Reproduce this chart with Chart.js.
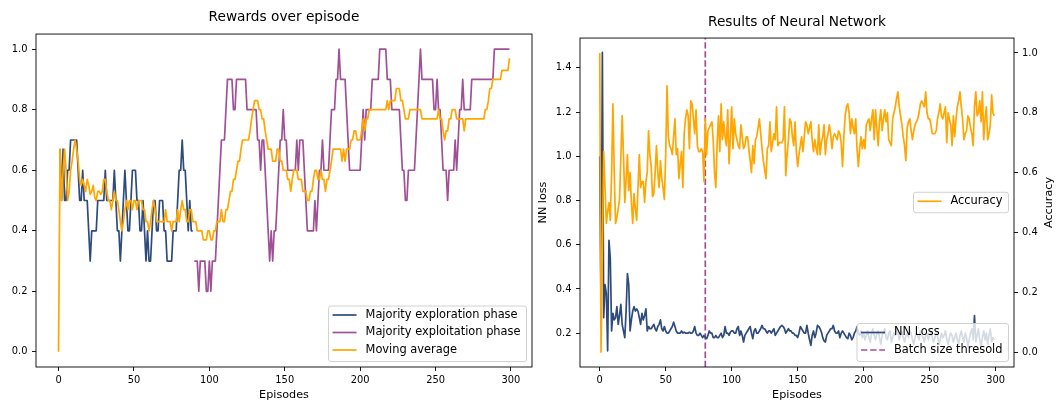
<!DOCTYPE html>
<html><head><meta charset="utf-8">
<script src="https://cdn.jsdelivr.net/npm/chart.js@4.4.1/dist/chart.umd.min.js"></script>
<style>
html,body{margin:0;padding:0;background:#fff;}
#wrap{position:relative;width:1057px;height:403px;overflow:hidden;background:#fff;}
#c1{position:absolute;left:0;top:0;}
#c2{position:absolute;left:536px;top:0;}
</style></head><body>
<div id="wrap"><canvas id="c1" width="536" height="403"></canvas><canvas id="c2" width="521" height="403"></canvas></div>
<script>
// ---------------- data ----------------
const episodes = Array.from({length: 300}, (_, i) => i);

const explorationReward = [
 null,0.67,0.5,0.67,0.5,0.5,0.6,0.6,0.7,0.7,
 0.7,0.7,0.7,0.6,0.5,0.5,0.6,0.5,0.5,0.5,
 0.4,0.3,0.4,0.4,0.4,0.4,0.5,0.5,0.5,0.5,
 0.5,0.6,0.5,0.5,0.5,0.5,0.5,0.6,0.5,0.4,
 0.4,0.3,0.4,0.5,0.6,0.5,0.4,0.4,0.5,0.6,
 0.6,0.6,0.5,0.5,0.4,0.4,0.5,0.4,0.3,0.4,
 0.3,0.3,0.4,0.5,0.5,0.4,0.4,0.5,0.5,0.5,
 0.4,0.4,0.3,0.3,0.3,0.3,0.4,0.4,0.4,0.5,
 0.6,0.6,0.7,0.6,0.6,0.5,0.4,0.5,0.4,0.4
].concat(Array(210).fill(null));

const exploitationReward = Array(90).fill(null).concat([
 0.3,0.3,0.3,0.2,0.3,0.3,0.3,0.3,0.2,0.2,
 0.3,0.2,0.3,0.3,0.3,0.4,0.5,0.6,0.7,0.7,
 0.7,0.8,0.9,0.9,0.9,0.9,0.8,0.8,0.9,0.9,
 0.9,0.9,0.9,0.9,0.9,0.8,0.8,0.8,0.8,0.8,
 0.8,0.8,0.7,0.7,0.6,0.7,0.7,0.6,0.5,0.4,
 0.3,0.4,0.3,0.4,0.4,0.5,0.6,0.7,0.7,0.8,
 0.7,0.7,0.6,0.6,0.6,0.6,0.6,0.6,0.7,0.6,
 0.7,0.7,0.7,0.6,0.5,0.4,0.4,0.4,0.4,0.4,
 0.5,0.4,0.5,0.6,0.6,0.7,0.6,0.6,0.6,0.6,
 0.7,0.8,0.8,0.8,0.9,0.9,1.0,0.9,0.9,0.9,
 0.9,0.8,0.7,0.6,0.6,0.6,0.6,0.6,0.6,0.6,
 0.6,0.7,0.8,0.7,0.8,0.8,0.8,0.8,0.9,0.9,
 0.9,0.9,0.9,1.0,1.0,1.0,1.0,1.0,0.9,0.9,
 0.9,0.8,0.8,0.8,0.8,0.8,0.8,0.7,0.6,0.6,
 0.5,0.5,0.6,0.6,0.6,0.6,0.6,0.7,0.8,0.9,
 1.0,0.9,0.9,0.9,0.9,0.9,0.9,0.9,0.9,0.8,
 0.8,0.9,0.8,0.8,0.7,0.6,0.6,0.6,0.5,0.6,
 0.6,0.6,0.6,0.7,0.6,0.7,0.8,0.8,0.9,0.8,
 0.8,0.8,0.8,0.8,0.9,0.9,0.9,0.9,0.9,0.9,
 0.9,0.9,0.9,0.9,0.9,0.9,0.9,0.9,0.9,1.0,
 1.0,1.0,1.0,1.0,1.0,1.0,1.0,1.0,1.0,1.0
]);

const movingAverage = [
 0,0.67,0.5,0.6,0.67,0.6,0.5,0.53,0.6,0.63,
 0.67,0.7,0.67,0.63,0.57,0.55,0.57,0.55,0.53,0.57,
 0.55,0.52,0.53,0.55,0.51,0.5,0.53,0.53,0.52,0.53,
 0.57,0.57,0.53,0.5,0.5,0.47,0.5,0.53,0.5,0.5,
 0.47,0.43,0.4,0.43,0.47,0.5,0.47,0.5,0.5,0.47,
 0.5,0.5,0.47,0.5,0.5,0.5,0.47,0.47,0.43,0.43,
 0.4,0.43,0.47,0.5,0.47,0.43,0.43,0.43,0.43,0.43,
 0.43,0.47,0.43,0.43,0.43,0.4,0.43,0.43,0.43,0.47,
 0.43,0.47,0.5,0.47,0.47,0.43,0.43,0.47,0.47,0.43,
 0.43,0.43,0.4,0.4,0.4,0.4,0.37,0.37,0.37,0.4,
 0.4,0.37,0.37,0.4,0.4,0.43,0.43,0.43,0.47,0.43,
 0.43,0.47,0.47,0.5,0.53,0.53,0.57,0.57,0.6,0.63,
 0.63,0.67,0.7,0.7,0.7,0.7,0.7,0.73,0.77,0.8,
 0.83,0.83,0.83,0.8,0.8,0.77,0.77,0.73,0.7,0.67,
 0.67,0.67,0.63,0.63,0.63,0.67,0.67,0.63,0.63,0.6,
 0.6,0.6,0.57,0.57,0.53,0.57,0.6,0.6,0.6,0.57,
 0.57,0.57,0.53,0.53,0.53,0.5,0.5,0.53,0.53,0.57,
 0.6,0.6,0.57,0.57,0.6,0.57,0.57,0.53,0.57,0.57,
 0.6,0.63,0.67,0.67,0.67,0.67,0.67,0.67,0.63,0.67,
 0.63,0.67,0.67,0.67,0.7,0.7,0.73,0.73,0.7,0.7,
 0.7,0.73,0.77,0.73,0.77,0.77,0.8,0.8,0.8,0.8,
 0.8,0.8,0.8,0.8,0.8,0.8,0.8,0.8,0.83,0.8,
 0.83,0.83,0.83,0.83,0.87,0.87,0.87,0.83,0.83,0.8,
 0.77,0.77,0.77,0.8,0.8,0.8,0.8,0.8,0.8,0.8,
 0.8,0.77,0.77,0.77,0.77,0.77,0.77,0.77,0.77,0.77,
 0.77,0.77,0.8,0.77,0.77,0.73,0.7,0.73,0.73,0.77,
 0.77,0.8,0.8,0.8,0.77,0.77,0.77,0.77,0.77,0.73,
 0.77,0.77,0.77,0.77,0.77,0.77,0.77,0.77,0.77,0.77,
 0.77,0.77,0.77,0.8,0.8,0.83,0.87,0.87,0.9,0.9,
 0.9,0.9,0.9,0.9,0.93,0.93,0.93,0.93,0.93,0.97
];

const nnLoss = [
 1.0,0.29,1.47,0.27,0.42,0.38,0.12,0.62,0.54,0.21,
 0.29,0.26,0.27,0.32,0.24,0.28,0.33,0.24,0.21,0.18,
 0.3,0.47,0.42,0.21,0.26,0.3,0.32,0.3,0.31,0.3,
 0.27,0.24,0.29,0.26,0.28,0.31,0.21,0.23,0.22,0.22,
 0.23,0.24,0.22,0.21,0.23,0.24,0.26,0.22,0.21,0.23,
 0.21,0.2,0.2,0.21,0.22,0.23,0.25,0.23,0.21,0.2,
 0.2,0.2,0.21,0.2,0.205,0.2,0.2,0.2,0.205,0.2,
 0.2,0.21,0.23,0.2,0.19,0.19,0.2,0.19,0.18,0.19,
 0.18,0.175,0.19,0.21,0.2,0.2,0.18,0.18,0.19,0.18,
 0.18,0.19,0.2,0.18,0.19,0.23,0.2,0.2,0.19,0.205,
 0.21,0.21,0.2,0.2,0.22,0.23,0.19,0.21,0.19,0.16,
 0.19,0.2,0.21,0.22,0.23,0.2,0.175,0.21,0.22,0.2,
 0.2,0.21,0.22,0.235,0.22,0.22,0.21,0.2,0.21,0.21,
 0.2,0.21,0.22,0.19,0.2,0.21,0.22,0.23,0.235,0.23,
 0.22,0.2,0.21,0.22,0.21,0.21,0.2,0.2,0.19,0.19,
 0.18,0.2,0.23,0.22,0.21,0.2,0.2,0.235,0.2,0.17,
 0.145,0.19,0.21,0.18,0.2,0.235,0.23,0.22,0.205,0.18,
 0.165,0.16,0.19,0.2,0.21,0.22,0.22,0.235,0.21,0.2,
 0.2,0.21,0.18,0.2,0.21,0.2,0.19,0.18,0.175,0.2,
 0.19,0.17,0.18,0.2,0.21,0.23,0.2,0.19,0.21,0.18,
 0.2,0.17,0.19,0.21,0.18,0.16,0.2,0.22,0.19,0.17,
 0.2,0.21,0.18,0.15,0.19,0.2,0.22,0.18,0.17,0.2,
 0.21,0.16,0.18,0.2,0.19,0.22,0.2,0.17,0.19,0.21,
 0.18,0.16,0.19,0.2,0.18,0.21,0.2,0.17,0.15,0.18,
 0.2,0.19,0.17,0.21,0.2,0.18,0.16,0.19,0.2,0.17,
 0.19,0.21,0.18,0.16,0.18,0.2,0.19,0.15,0.17,0.2,
 0.18,0.19,0.21,0.17,0.15,0.18,0.2,0.19,0.16,0.18,
 0.2,0.17,0.15,0.19,0.21,0.18,0.16,0.2,0.18,0.14,
 0.17,0.2,0.22,0.17,0.28,0.16,0.19,0.22,0.17,0.14,
 0.18,0.21,0.17,0.2,0.15,0.19,0.22,0.16,0.18,0.17
];

const accuracy = [
 1.0,0.0,0.35,0.67,0.55,0.43,0.47,0.5,0.44,0.6,
 0.83,0.6,0.43,0.45,0.48,0.51,0.65,0.79,0.66,0.5,
 0.58,0.66,0.54,0.6,0.5,0.43,0.53,0.48,0.44,0.55,
 0.66,0.55,0.57,0.57,0.5,0.57,0.6,0.74,0.66,0.62,
 0.52,0.53,0.6,0.69,0.6,0.55,0.64,0.58,0.55,0.51,
 0.66,0.89,0.72,0.69,0.68,0.66,0.72,0.78,0.66,0.68,
 0.58,0.63,0.67,0.55,0.73,0.78,0.81,0.79,0.68,0.84,
 0.83,0.78,0.73,0.81,0.69,0.67,0.67,0.68,0.67,0.57,
 0.78,0.66,0.74,0.75,0.76,0.77,0.71,0.6,0.55,0.7,
 0.79,0.67,0.83,0.71,0.77,0.72,0.69,0.81,0.63,0.72,
 0.82,0.68,0.78,0.73,0.71,0.69,0.68,0.76,0.72,0.68,
 0.69,0.72,0.72,0.68,0.64,0.6,0.69,0.63,0.71,0.72,
 0.75,0.78,0.73,0.68,0.64,0.61,0.58,0.68,0.69,0.77,
 0.67,0.7,0.73,0.71,0.82,0.69,0.7,0.7,0.7,0.71,
 0.82,0.59,0.66,0.71,0.78,0.77,0.72,0.69,0.77,0.67,
 0.62,0.66,0.69,0.72,0.67,0.72,0.77,0.76,0.73,0.75,
 0.77,0.71,0.67,0.71,0.68,0.66,0.76,0.66,0.7,0.72,
 0.76,0.66,0.71,0.73,0.76,0.73,0.68,0.72,0.73,0.72,
 0.71,0.74,0.73,0.7,0.62,0.72,0.79,0.82,0.83,0.8,
 0.73,0.78,0.75,0.73,0.78,0.68,0.62,0.68,0.72,0.68,
 0.71,0.68,0.76,0.77,0.78,0.74,0.78,0.81,0.71,0.81,
 0.75,0.69,0.77,0.81,0.74,0.78,0.81,0.77,0.8,0.71,
 0.7,0.69,0.78,0.8,0.82,0.85,0.87,0.82,0.79,0.76,
 0.72,0.69,0.64,0.75,0.77,0.78,0.74,0.71,0.74,0.76,
 0.77,0.78,0.8,0.83,0.84,0.83,0.82,0.87,0.8,0.78,
 0.78,0.76,0.73,0.73,0.73,0.74,0.78,0.8,0.83,0.79,
 0.78,0.8,0.82,0.7,0.8,0.78,0.76,0.69,0.79,0.72,
 0.78,0.82,0.84,0.87,0.82,0.78,0.71,0.73,0.74,0.79,
 0.78,0.75,0.73,0.69,0.82,0.87,0.79,0.8,0.84,0.77,
 0.87,0.71,0.78,0.82,0.71,0.73,0.76,0.86,0.8,0.79
];

const batchSizeThreshold = 80;

const xTicks = [0, 50, 100, 150, 200, 250, 300];
const rewardTicks = [0.0, 0.2, 0.4, 0.6, 0.8, 1.0];
const lossTicks = [0.2, 0.4, 0.6, 0.8, 1.0, 1.2, 1.4];
const accuracyTicks = [0.0, 0.2, 0.4, 0.6, 0.8, 1.0];

const TITLE_LEFT = 'Rewards over episode';
const TITLE_RIGHT = 'Results of Neural Network';
const X_LABEL = 'Episodes';
const Y_LABEL_LOSS = 'NN loss';
const Y_LABEL_ACC = 'Accuracy';
const LBL_EXPLORE = 'Majority exploration phase';
const LBL_EXPLOIT = 'Majority exploitation phase';
const LBL_MAVG = 'Moving average';
const LBL_LOSS = 'NN Loss';
const LBL_BATCH = 'Batch size thresold';
const LBL_ACC = 'Accuracy';

// ---------------- style ----------------
const FONT = 'DejaVu Sans';
const C_BLUE = '#2f4b7c', C_PURPLE = '#a05195', C_ORANGE = '#ffa600';
const LW = 1.7;
const TICK_FS = 9.9, LABEL_FS = 11.2, LEGEND_FS = 11.4, TITLE_FS = 13.7;
Chart.defaults.font.family = FONT;
Chart.defaults.color = '#000';

function fixedTicks(list) { return s => { s.ticks = list.map(v => ({value: v})); }; }
const tickGrid = {display: true, drawOnChartArea: false, drawTicks: true, tickLength: 4, tickWidth: 0.9, tickColor: '#000'};

function drawLegend(chart, L) {
  const {ctx, chartArea: a} = chart;
  ctx.save();
  ctx.font = LEGEND_FS + 'px "' + FONT + '"';
  const tw = Math.max(...L.items.map(it => ctx.measureText(it.label).width));
  const n = L.items.length;
  const w = 37 + tw + 6;
  const h = 9 + (n - 1) * 17.5 + 11.5;
  const x = a.right - 5.5 - w;
  const y = L.loc === 'center right' ? (a.top + a.bottom) / 2 - h / 2 : a.bottom - 5.5 - h;
  ctx.beginPath();
  if (ctx.roundRect) ctx.roundRect(x, y, w, h, 2.5); else ctx.rect(x, y, w, h);
  ctx.fillStyle = 'rgba(255,255,255,0.8)';
  ctx.fill();
  ctx.lineWidth = 0.9;
  ctx.strokeStyle = '#cccccc';
  ctx.stroke();
  L.items.forEach((it, i) => {
    const cy = y + 9 + i * 17.5;
    ctx.beginPath();
    ctx.setLineDash(it.dash || []);
    ctx.strokeStyle = it.color;
    ctx.lineWidth = LW;
    ctx.moveTo(x + 4, cy);
    ctx.lineTo(x + 28, cy);
    ctx.stroke();
    ctx.setLineDash([]);
    ctx.fillStyle = '#000';
    ctx.textBaseline = 'middle';
    ctx.textAlign = 'left';
    ctx.fillText(it.label, x + 37, cy);
  });
  ctx.restore();
}

const mplPlugin = {
  id: 'mpl',
  beforeDatasetsDraw(chart, args, opts) {
    const {ctx, chartArea: a} = chart;
    (opts.vlines || []).forEach(v => {
      const x = chart.scales.x.getPixelForValue(v.value);
      ctx.save();
      ctx.strokeStyle = v.color;
      ctx.lineWidth = LW;
      ctx.setLineDash(v.dash);
      ctx.beginPath();
      ctx.moveTo(x, a.bottom);
      ctx.lineTo(x, a.top);
      ctx.stroke();
      ctx.restore();
    });
  },
  afterDatasetsDraw(chart, args, opts) {
    const {ctx, chartArea: a} = chart;
    ctx.save();
    ctx.strokeStyle = '#000';
    ctx.lineWidth = 0.9;
    ctx.strokeRect(a.left, a.top, a.right - a.left, a.bottom - a.top);
    ctx.restore();
    (opts.legends || []).forEach(L => drawLegend(chart, L));
    if (opts.rightTitle) {
      ctx.save();
      ctx.translate(a.right + opts.rightTitle.offset, (a.top + a.bottom) / 2);
      ctx.rotate(-Math.PI / 2);
      ctx.font = LABEL_FS + 'px "' + FONT + '"';
      ctx.fillStyle = '#000';
      ctx.textAlign = 'center';
      ctx.textBaseline = 'middle';
      ctx.fillText(opts.rightTitle.text, 0, 0);
      ctx.restore();
    }
  }
};

function lineDs(label, data, color, extra) {
  return Object.assign({label, data, borderColor: color, backgroundColor: color, borderWidth: LW,
    pointRadius: 0, pointHoverRadius: 0, tension: 0, fill: false, spanGaps: false,
    borderJoinStyle: 'round', borderCapStyle: 'butt'}, extra || {});
}

function xScale() {
  return {
    type: 'linear', min: -14.95, max: 313.95,
    afterBuildTicks: fixedTicks(xTicks),
    ticks: {font: {size: TICK_FS}, color: '#000', padding: 3.5, maxRotation: 0, autoSkip: false, callback: v => String(v)},
    grid: tickGrid, border: {display: false},
    title: {display: true, text: X_LABEL, font: {size: LABEL_FS}, color: '#000', padding: {top: 0, bottom: 1}},
    afterFit: s => { s.height = 36; }
  };
}

// ---------------- left chart ----------------
new Chart(document.getElementById('c1'), {
  type: 'line',
  data: {
    labels: episodes,
    datasets: [
      lineDs(LBL_EXPLORE, explorationReward, C_BLUE, {order: 2}),
      lineDs(LBL_EXPLOIT, exploitationReward, C_PURPLE, {order: 1}),
      lineDs(LBL_MAVG, movingAverage, C_ORANGE, {order: 0})
    ]
  },
  options: {
    responsive: false, animation: false, devicePixelRatio: 1,
    layout: {padding: {left: 0, right: 4, top: 0, bottom: 0}},
    events: [],
    plugins: {
      legend: {display: false}, tooltip: {enabled: false},
      title: {display: true, text: TITLE_LEFT, fullSize: false, font: {size: TITLE_FS, weight: 'normal'}, color: '#000', padding: {top: 8.8, bottom: 8.8}},
      mpl: {
        legends: [{loc: 'lower right', items: [
          {label: LBL_EXPLORE, color: C_BLUE},
          {label: LBL_EXPLOIT, color: C_PURPLE},
          {label: LBL_MAVG, color: C_ORANGE}]}]
      }
    },
    scales: {
      x: xScale(),
      y: {
        type: 'linear', min: -0.05, max: 1.05,
        afterBuildTicks: fixedTicks(rewardTicks),
        ticks: {font: {size: TICK_FS}, color: '#000', padding: 4.5, callback: v => v.toFixed(1)},
        grid: tickGrid, border: {display: false},
        afterFit: s => { s.width = 36; }
      }
    }
  },
  plugins: [mplPlugin]
});

// ---------------- right chart ----------------
new Chart(document.getElementById('c2'), {
  type: 'line',
  data: {
    labels: episodes,
    datasets: [
      lineDs(LBL_LOSS, nnLoss, C_BLUE, {yAxisID: 'y', order: 1}),
      lineDs(LBL_ACC, accuracy, C_ORANGE, {yAxisID: 'y1', order: 0})
    ]
  },
  options: {
    responsive: false, animation: false, devicePixelRatio: 1,
    layout: {padding: 0},
    events: [],
    plugins: {
      legend: {display: false}, tooltip: {enabled: false},
      title: {display: true, text: TITLE_RIGHT, fullSize: false, font: {size: TITLE_FS, weight: 'normal'}, color: '#000', padding: {top: 13.8, bottom: 7.8}},
      mpl: {
        vlines: [{value: batchSizeThreshold, color: C_PURPLE, dash: [6.35, 2.75]}],
        legends: [
          {loc: 'lower right', items: [
            {label: LBL_LOSS, color: C_BLUE},
            {label: LBL_BATCH, color: C_PURPLE, dash: [6.35, 2.75]}]},
          {loc: 'center right', items: [{label: LBL_ACC, color: C_ORANGE}]}
        ],
        rightTitle: {text: Y_LABEL_ACC, offset: 34.6}
      }
    },
    scales: {
      x: xScale(),
      y: {
        type: 'linear', position: 'left', min: 0.047, max: 1.535,
        afterBuildTicks: fixedTicks(lossTicks),
        ticks: {font: {size: TICK_FS}, color: '#000', padding: 4.5, callback: v => v.toFixed(1)},
        grid: tickGrid, border: {display: false},
        title: {display: true, text: Y_LABEL_LOSS, font: {size: LABEL_FS}, color: '#000', padding: {top: 0, bottom: 0}},
        afterFit: s => { s.width = 44; }
      },
      y1: {
        type: 'linear', position: 'right', min: -0.05, max: 1.05,
        afterBuildTicks: fixedTicks(accuracyTicks),
        ticks: {font: {size: TICK_FS}, color: '#000', padding: 4, callback: v => v.toFixed(1)},
        grid: tickGrid, border: {display: false},
        afterFit: s => { s.width = 43; }
      }
    }
  },
  plugins: [mplPlugin]
});
</script>
</body></html>
